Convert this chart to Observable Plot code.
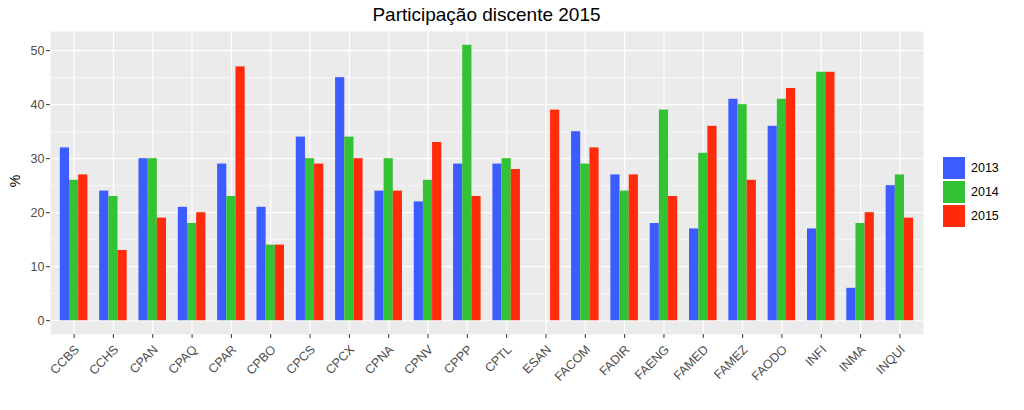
<!DOCTYPE html>
<html><head><meta charset="utf-8">
<script src="https://cdn.jsdelivr.net/npm/d3@7"></script>
<script src="https://cdn.jsdelivr.net/npm/@observablehq/plot@0.6"></script>
<style>
body{margin:0;background:#fff;font-family:"Liberation Sans",Arial,sans-serif;}
#wrap{position:relative;width:1024px;height:410px;overflow:hidden;}
#title{position:absolute;left:50px;width:873px;top:4px;text-align:center;font-size:19px;color:#000;line-height:21px;}
#plot{position:absolute;left:0;top:31px;}
#ylab{position:absolute;left:5px;top:173px;width:20px;text-align:center;transform:rotate(-90deg);font-size:14px;color:#000;}
#legend{position:absolute;left:942px;top:156px;font-size:12.5px;color:#000;}
.item{display:flex;align-items:center;height:24px;}
.sw{width:22px;height:22px;border:1px solid #fff;margin-right:5px;box-sizing:content-box;}
</style></head><body>
<div id="wrap">
  <div id="title">Participação discente 2015</div>
  <div id="ylab">%</div>
  <div id="plot"></div>
  <div id="legend"></div>
</div>
<script>
const categories = ["CCBS","CCHS","CPAN","CPAQ","CPAR","CPBO","CPCS","CPCX","CPNA","CPNV","CPPP","CPTL","ESAN","FACOM","FADIR","FAENG","FAMED","FAMEZ","FAODO","INFI","INMA","INQUI"];
const years = ["2013","2014","2015"];
const colors = ["#3D5CFF","#33C233","#FF2B0A"];
const v2013 = [32,24,30,21,29,21,34,45,24,22,29,29,null,35,27,18,17,41,36,17,6,25];
const v2014 = [26,23,30,18,23,14,30,34,30,26,51,30,null,29,24,39,31,40,41,46,18,27];
const v2015 = [27,13,19,20,47,14,29,30,24,33,23,28,39,32,27,23,36,26,43,46,20,19];
const yTicks = [0,10,20,30,40,50];
const yMinor = [5,15,25,35,45];

const series = [v2013, v2014, v2015];
const rows = [];
categories.forEach((c, i) => {
  series.forEach((s, j) => {
    if (s[i] != null) rows.push({cat: c, i, year: years[j], j, value: s[i]});
  });
});
const dodge = 0.7, bw = dodge / years.length;
const yMax = d3.max(rows, d => d.value);
const ex = yMax * 0.05;
const idx = d3.range(categories.length);

const plot = Plot.plot({
  width: 1024,
  height: 379,
  marginLeft: 50,
  marginRight: 101,
  marginTop: 0,
  marginBottom: 76,
  style: {fontFamily: '"Liberation Sans", Arial, sans-serif', fontSize: "12.5px", background: "transparent"},
  x: {type: "linear", domain: [-0.6, categories.length - 1 + 0.6]},
  y: {domain: [-ex, yMax + ex]},
  color: {domain: years, range: colors},
  marks: [
    Plot.frame({fill: "#EBEBEB", stroke: null}),
    Plot.gridY(yMinor, {stroke: "#fff", strokeOpacity: 1, strokeWidth: 0.6}),
    Plot.gridY(yTicks, {stroke: "#fff", strokeOpacity: 1, strokeWidth: 1.2}),
    Plot.gridX(idx, {stroke: "#fff", strokeOpacity: 1, strokeWidth: 1.2}),
    Plot.rectY(rows, {
      x1: d => d.i - dodge / 2 + d.j * bw,
      x2: d => d.i - dodge / 2 + (d.j + 1) * bw,
      y1: 0, y2: "value", fill: "year", inset: 0
    }),
    Plot.axisY(yTicks, {label: null, tickSize: 4, tickPadding: 2, stroke: "#333", fill: "#4D4D4D", fontSize: "12.5px"}),
    Plot.axisX(idx, {label: null, tickSize: 4, tickFormat: () => "", stroke: "#333"}),
    Plot.axisX(idx, {label: null, tickSize: 0, tickPadding: 13, tickRotate: -45, dx: 3, tickFormat: i => categories[i], fill: "#4D4D4D", fontSize: "12.5px"})
  ]
});
document.getElementById("plot").appendChild(plot);

const leg = document.getElementById("legend");
years.forEach((y, j) => {
  const it = document.createElement("div");
  it.className = "item";
  const sw = document.createElement("div");
  sw.className = "sw";
  sw.style.background = colors[j];
  const t = document.createElement("span");
  t.textContent = y;
  it.appendChild(sw); it.appendChild(t);
  leg.appendChild(it);
});
</script>
</body></html>
